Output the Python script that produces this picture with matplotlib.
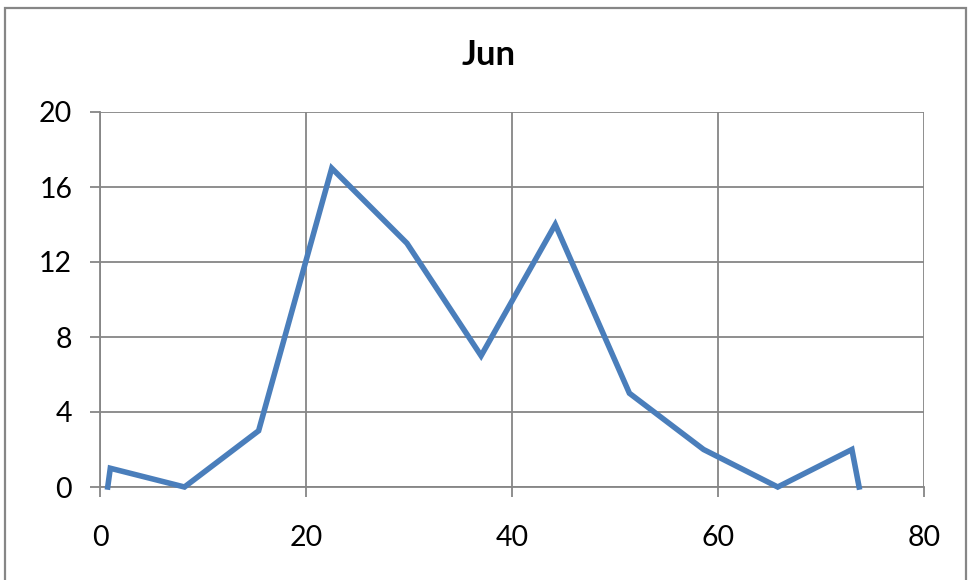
import matplotlib
matplotlib.use("Agg")
import matplotlib.pyplot as plt
from matplotlib.patches import Rectangle

# Series: position vs. count for June
x_vals = [0.75, 1.0, 8.2, 15.4, 22.5, 29.8, 37.0, 44.2, 51.4, 58.6, 65.8, 73.0, 73.7]
y_vals = [0, 1, 0, 3, 17, 13, 7, 14, 5, 2, 0, 2, 0]
x_ticks = [0, 20, 40, 60, 80]
y_ticks = [0, 4, 8, 12, 16, 20]
title = "Jun"

plt.rcParams["font.family"] = ["Lato", "DejaVu Sans"]

fig = plt.figure(figsize=(9.7, 5.8), dpi=100)
ax = fig.add_axes([100 / 970, 1 - 487 / 580, 824 / 970, 375 / 580])

grid_c = "#868686"

# outer chart frame
fig.patches.append(Rectangle((5 / 970, -0.05), 961 / 970, 1.05 - 8 / 580,
                             transform=fig.transFigure, fill=False,
                             edgecolor=grid_c, linewidth=1.6))

ax.plot(x_vals, y_vals, color="#4A7EBB", linewidth=4.0, solid_joinstyle="miter",
        zorder=3, clip_on=False)

ax.set_xlim(0, 80)
ax.set_ylim(0, 20)
ax.set_xticks(x_ticks)
ax.set_yticks(y_ticks)
ax.grid(True, color=grid_c, linewidth=1.3)
for side in ["top", "right"]:
    ax.spines[side].set_visible(False)
for side in ["left", "bottom"]:
    ax.spines[side].set_color(grid_c)
    ax.spines[side].set_linewidth(1.3)
ax.tick_params(axis="both", direction="out", length=7, width=1.3, color=grid_c,
               labelsize=20.5, labelcolor="black")
ax.tick_params(axis="x", pad=20)
ax.tick_params(axis="y", pad=13)

fig.text(489 / 970, 1 - 55 / 580, title, ha="center", va="center",
         fontsize=25, fontweight="bold")

fig.savefig("out.png", dpi=100)
